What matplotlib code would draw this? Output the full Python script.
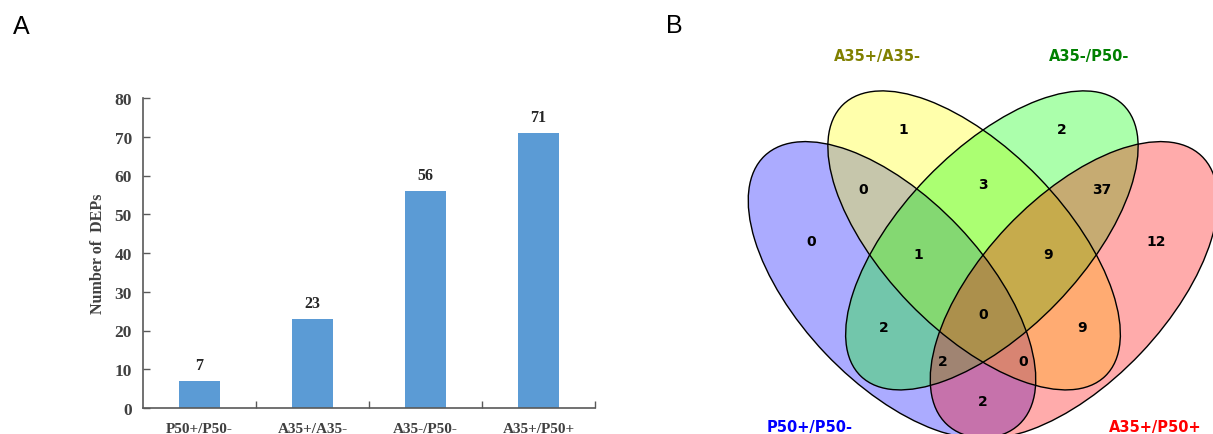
import numpy as np
import matplotlib
matplotlib.use("Agg")
import matplotlib.pyplot as plt
from matplotlib.patches import Ellipse

# ---------------- data ----------------
categories = ["P50+/P50-", "A35+/A35-", "A35-/P50-", "A35+/P50+"]
dep_counts = [7, 23, 56, 71]
y_ticks = [0, 10, 20, 30, 40, 50, 60, 70, 80]

venn_sets = ["P50+/P50-", "A35+/A35-", "A35-/P50-", "A35+/P50+"]
# region membership flags (P50, A35+/A35-, A35-/P50-, A35+/P50+) -> count
region_keys = ["1000", "0100", "0010", "0001", "1100", "0110", "0011", "1010",
               "0101", "1001", "1110", "0111", "1011", "1101", "1111"]
region_counts = [0, 1, 2, 12, 0, 3, 37, 2, 9, 2, 1, 9, 2, 0, 0]

# ---------------- layout ----------------
W, H = 1213, 435
AXIS = 983.0  # symmetry axis of the Venn diagram (pixels)

# outer ellipse (left one) and inner ellipse (left-leaning one): cx, cy, semi-a, semi-b, angle
OUTER = (892.0, 291.0, 185.0, 92.0, 46.5)
INNER = (974.1, 241.4, 188.7, 90.2, 46.0)

fig = plt.figure(figsize=(W/100, H/100), dpi=100)
fig.patch.set_facecolor("white")

serif = "Liberation Serif"
gray = "#404040"
spine_col = "#595959"

# ---------------- panel A ----------------
axA = fig.add_axes([143/W, (H-409)/H, (595-143)/W, (409-99)/H])
x = np.arange(len(categories))
axA.bar(x, dep_counts, width=0.36, color="#5B9BD5", zorder=2)
axA.set_xlim(-0.5, len(categories) - 0.5)
axA.set_ylim(0, 80)
axA.set_yticks(y_ticks)
axA.set_yticklabels([str(t) for t in y_ticks], fontfamily=serif, fontweight="bold",
                    fontsize=12.5, color=gray)
axA.set_xticks(x)
axA.set_xticklabels(categories, fontfamily=serif, fontweight="bold", fontsize=11, color=gray)
axA.tick_params(axis="x", which="major", length=0, pad=10)
axA.set_xticks(np.arange(0.5, len(categories)), minor=True)
axA.tick_params(axis="x", which="minor", direction="in", length=5, color=spine_col, width=1)
axA.tick_params(axis="y", direction="in", length=5, color=spine_col, width=1, pad=8)
for s in ["top", "right"]:
    axA.spines[s].set_visible(False)
for s in ["left", "bottom"]:
    axA.spines[s].set_color(spine_col)
    axA.spines[s].set_linewidth(1.2)
axA.set_ylabel("Number of  DEPs", fontfamily=serif, fontweight="bold", fontsize=11.5,
               color=gray, labelpad=6)
for xi, v in zip(x, dep_counts):
    axA.annotate(str(v), (xi, v), xytext=(0, 6), textcoords="offset points",
                 ha="center", va="bottom", fontfamily=serif, fontweight="bold",
                 fontsize=11.5, color="#262626")

fig.text(21/W, 1 - 27/H, "A", fontsize=18, fontfamily="Liberation Sans",
         ha="center", va="center")
fig.text(674/W, 1 - 26/H, "B", fontsize=18, fontfamily="Liberation Sans",
         ha="center", va="center")

# ---------------- panel B (Venn) ----------------
axB = fig.add_axes([640/W, 0, (W-640)/W, 1])
axB.set_xlim(640, W)
axB.set_ylim(H, 0)
axB.axis("off")

ocx, ocy, oa, ob, oang = OUTER
icx, icy, ia, ib, iang = INNER
ell_specs = [
    ((ocx, ocy), oa, ob, oang, "#0000FF"),
    ((icx, icy), ia, ib, iang, "#FFFF00"),
    ((2*AXIS - icx, icy), ia, ib, 180 - iang, "#00FF00"),
    ((2*AXIS - ocx, ocy), oa, ob, 180 - oang, "#FF0000"),
]
for c, a, b, ang, col in ell_specs:
    axB.add_patch(Ellipse(c, 2*a, 2*b, angle=ang, facecolor=col, alpha=0.33,
                          edgecolor="none", clip_on=False))
for c, a, b, ang, col in ell_specs:
    axB.add_patch(Ellipse(c, 2*a, 2*b, angle=ang, facecolor="none",
                          edgecolor="black", lw=1.0, clip_on=False))

region_pos = {"1000": (811, 242), "0100": (903, 130), "0010": (1062, 130),
              "0001": (1156, 242), "1100": (863, 190), "0110": (983, 185),
              "0011": (1102, 190), "1010": (884, 328), "0101": (1082, 328),
              "1001": (983, 402), "1110": (918, 255), "0111": (1048, 255),
              "1011": (943, 362), "1101": (1023, 362), "1111": (983, 315)}
for k, n in zip(region_keys, region_counts):
    px, py = region_pos[k]
    axB.text(px, py, str(n), ha="center", va="center", fontsize=10,
             fontweight="bold", fontfamily="DejaVu Sans", color="black")

label_pos = [(810, 428), (877, 57), (1089, 57), (1155, 428)]
label_col = ["#0000FF", "#808000", "#008000", "#FF0000"]
for name, (px, py), col in zip(venn_sets, label_pos, label_col):
    axB.text(px, py, name, ha="center", va="center",
             fontsize=10.5, fontweight="bold", fontfamily="DejaVu Sans", color=col)

fig.savefig("out.png", dpi=100, facecolor="white")
